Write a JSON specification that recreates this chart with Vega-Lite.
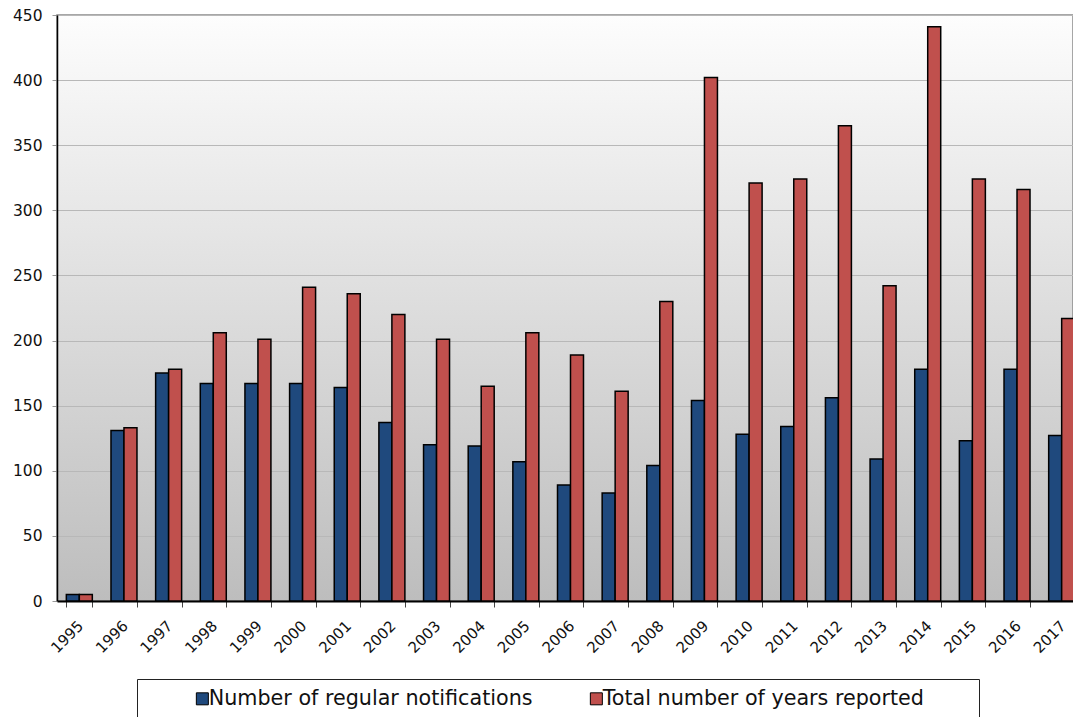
{
  "$schema": "https://vega.github.io/schema/vega-lite/v6.json",
  "autosize": {"type": "none"},
  "padding": {"left": 57, "top": 15, "right": 0, "bottom": 116},
  "width": 1016,
  "height": 586,
  "background": "white",
  "config": {
    "font": "DejaVu Sans",
    "view": {
      "stroke": "#8a8a8a",
      "strokeWidth": 1.5,
      "fill": {
        "gradient": "linear",
        "x1": 0, "y1": 0, "x2": 0, "y2": 1,
        "stops": [
          {"offset": 0, "color": "#fdfdfd"},
          {"offset": 1, "color": "#bdbdbd"}
        ]
      }
    }
  },
  "data": {
    "values": [
      {"year": "1995", "series": "Number of regular notifications", "value": 5},
      {"year": "1996", "series": "Number of regular notifications", "value": 131},
      {"year": "1997", "series": "Number of regular notifications", "value": 175},
      {"year": "1998", "series": "Number of regular notifications", "value": 167},
      {"year": "1999", "series": "Number of regular notifications", "value": 167},
      {"year": "2000", "series": "Number of regular notifications", "value": 167},
      {"year": "2001", "series": "Number of regular notifications", "value": 164},
      {"year": "2002", "series": "Number of regular notifications", "value": 137},
      {"year": "2003", "series": "Number of regular notifications", "value": 120},
      {"year": "2004", "series": "Number of regular notifications", "value": 119},
      {"year": "2005", "series": "Number of regular notifications", "value": 107},
      {"year": "2006", "series": "Number of regular notifications", "value": 89},
      {"year": "2007", "series": "Number of regular notifications", "value": 83},
      {"year": "2008", "series": "Number of regular notifications", "value": 104},
      {"year": "2009", "series": "Number of regular notifications", "value": 154},
      {"year": "2010", "series": "Number of regular notifications", "value": 128},
      {"year": "2011", "series": "Number of regular notifications", "value": 134},
      {"year": "2012", "series": "Number of regular notifications", "value": 156},
      {"year": "2013", "series": "Number of regular notifications", "value": 109},
      {"year": "2014", "series": "Number of regular notifications", "value": 178},
      {"year": "2015", "series": "Number of regular notifications", "value": 123},
      {"year": "2016", "series": "Number of regular notifications", "value": 178},
      {"year": "2017", "series": "Number of regular notifications", "value": 127},
      {"year": "1995", "series": "Total number of years reported", "value": 5},
      {"year": "1996", "series": "Total number of years reported", "value": 133},
      {"year": "1997", "series": "Total number of years reported", "value": 178},
      {"year": "1998", "series": "Total number of years reported", "value": 206},
      {"year": "1999", "series": "Total number of years reported", "value": 201},
      {"year": "2000", "series": "Total number of years reported", "value": 241},
      {"year": "2001", "series": "Total number of years reported", "value": 236},
      {"year": "2002", "series": "Total number of years reported", "value": 220},
      {"year": "2003", "series": "Total number of years reported", "value": 201},
      {"year": "2004", "series": "Total number of years reported", "value": 165},
      {"year": "2005", "series": "Total number of years reported", "value": 206},
      {"year": "2006", "series": "Total number of years reported", "value": 189},
      {"year": "2007", "series": "Total number of years reported", "value": 161},
      {"year": "2008", "series": "Total number of years reported", "value": 230},
      {"year": "2009", "series": "Total number of years reported", "value": 402},
      {"year": "2010", "series": "Total number of years reported", "value": 321},
      {"year": "2011", "series": "Total number of years reported", "value": 324},
      {"year": "2012", "series": "Total number of years reported", "value": 365},
      {"year": "2013", "series": "Total number of years reported", "value": 242},
      {"year": "2014", "series": "Total number of years reported", "value": 441},
      {"year": "2015", "series": "Total number of years reported", "value": 324},
      {"year": "2016", "series": "Total number of years reported", "value": 316},
      {"year": "2017", "series": "Total number of years reported", "value": 217}
    ]
  },
  "mark": {"type": "bar", "stroke": "black", "strokeWidth": 1.5},
  "encoding": {
    "x": {
      "field": "year",
      "type": "nominal",
      "scale": {"range": [0, 1027], "paddingInner": 0.418, "paddingOuter": 0.209},
      "axis": {
        "title": null,
        "domainColor": "black",
        "domainWidth": 2,
        "tickBand": "extent",
        "tickColor": "#444",
        "tickSize": 6,
        "labelAngle": -45,
        "labelFont": "DejaVu Sans",
        "labelFontSize": 15,
        "labelColor": "#111",
        "labelPadding": 11,
        "labelOffset": -4,
        "grid": false
      }
    },
    "xOffset": {"field": "series", "type": "nominal", "scale": {"paddingInner": 0, "paddingOuter": 0}},
    "y": {
      "field": "value",
      "type": "quantitative",
      "scale": {"domain": [0, 450], "nice": false},
      "axis": {
        "title": null,
        "values": [0, 50, 100, 150, 200, 250, 300, 350, 400, 450],
        "domainColor": "black",
        "domainWidth": 1.5,
        "tickColor": "#999",
        "tickSize": 5,
        "labelFont": "DejaVu Sans",
        "labelFontSize": 15.5,
        "labelColor": "#111",
        "labelPadding": 10,
        "grid": true,
        "gridColor": "#b8b8b8",
        "gridWidth": 1
      }
    },
    "color": {
      "field": "series",
      "type": "nominal",
      "scale": {
        "domain": ["Number of regular notifications", "Total number of years reported"],
        "range": ["#1F497D", "#C0504D"]
      },
      "legend": {
        "orient": "none",
        "legendX": 80,
        "legendY": 664,
        "direction": "horizontal",
        "title": null,
        "strokeColor": "#222",
        "fillColor": "white",
        "padding": 9,
        "symbolType": "square",
        "symbolSize": 144,
        "symbolStrokeColor": "black",
        "symbolStrokeWidth": 1,
        "symbolOpacity": 1,
        "symbolOffset": 46,
        "labelFont": "DejaVu Sans",
        "labelFontSize": 20.7,
        "labelColor": "#111",
        "labelLimit": 600,
        "labelOffset": -4,
        "columnPadding": 7,
        "labelExpr": "datum.value == 'Total number of years reported' ? datum.label + '\u2800\u2800\u2800' : datum.label"
      }
    }
  }
}
